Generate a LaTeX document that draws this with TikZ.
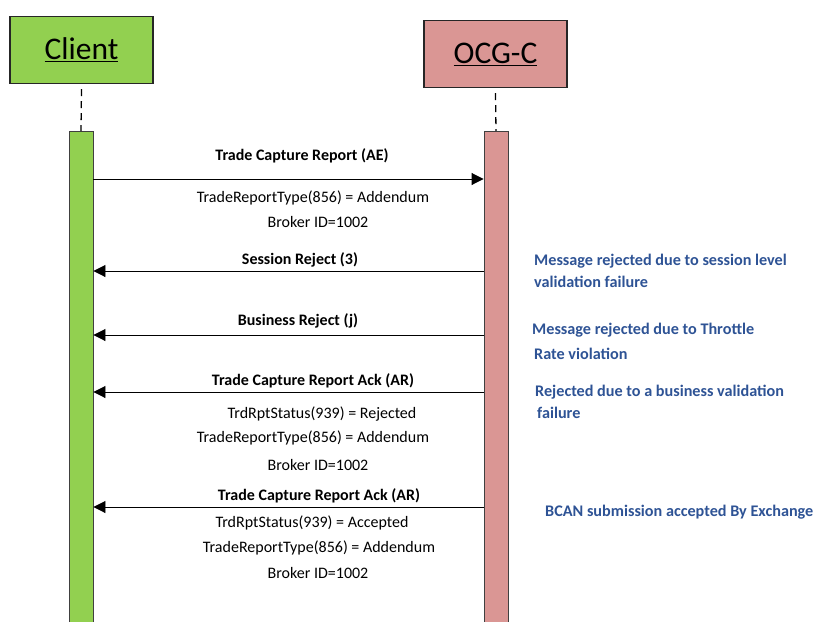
\documentclass[tikz,border=0pt]{standalone}
\usepackage{fontspec}
\setmainfont{Carlito}
\usetikzlibrary{arrows.meta}
\definecolor{cgreen}{HTML}{92D050}
\definecolor{cred}{HTML}{DA9694}
\definecolor{nblue}{HTML}{2E5395}
\tikzset{
  actor/.style={draw=black!85, line width=1.1pt, minimum width=143pt, minimum height=67pt, inner sep=0pt, font=\fontsize{31.5}{34}\selectfont},
  bar/.style={draw=black!75, line width=0.9pt, minimum width=24pt, minimum height=492pt, inner sep=0pt},
  life/.style={line width=1.3pt, dash pattern=on 7pt off 5pt},
  msg/.style={line width=0.9pt, -{Triangle[length=12pt,width=12pt]}},
  mlabel/.style={font=\bfseries\fontsize{16}{18}\selectfont, inner sep=0pt},
  mtext/.style={font=\fontsize{16}{18}\selectfont, inner sep=0pt},
  note/.style={font=\bfseries\fontsize{16.2}{18}\selectfont, text=nblue, inner sep=0pt, anchor=west}
}
\begin{document}
\begin{tikzpicture}[x=1pt,y=-1pt]
\useasboundingbox (0,0) rectangle (816,621);
% actors
\node[actor, fill=cgreen] (client) at (81.5,50) {\underline{Client}};
\node[actor, fill=cred] (ocg) at (495.5,54) {\underline{OCG-C}};
% activation bars
\node[bar, fill=cgreen, anchor=north] (cbar) at (81,131) {};
\node[bar, fill=cred, anchor=north] (obar) at (496,131) {};
% lifelines
\draw[life] (client.south) ++(0,5) coordinate (cl1) -- (cbar.north);
\draw[life] (ocg.south) ++(0,5) coordinate (ol1) -- (obar.north);
% message 1
\draw[msg] (cbar.east |- 0,179) -- (obar.west |- 0,179);
\node[mlabel] (m1) at (302,156) {Trade Capture Report (AE)};
\node[mtext] (m1a) at (313,198) {TradeReportType(856) = Addendum};
\node[mtext] (m1b) at (318,222) {Broker ID=1002};
% message 2
\draw[msg] (obar.west |- 0,271) -- (cbar.east |- 0,271);
\node[mlabel] (m2) at (300,260) {Session Reject (3)};
% message 3
\draw[msg] (obar.west |- 0,335) -- (cbar.east |- 0,335);
\node[mlabel] (m3) at (298,321) {Business Reject (j)};
% message 4
\draw[msg] (obar.west |- 0,392) -- (cbar.east |- 0,392);
\node[mlabel] (m4) at (313,381) {Trade Capture Report Ack (AR)};
\node[mtext] (m4a) at (322,414) {TrdRptStatus(939) = Rejected};
\node[mtext] (m4b) at (313,438) {TradeReportType(856) = Addendum};
\node[mtext] (m4c) at (318,465) {Broker ID=1002};
% message 5
\draw[msg] (obar.west |- 0,507) -- (cbar.east |- 0,507);
\node[mlabel] (m5) at (319,496) {Trade Capture Report Ack (AR)};
\node[mtext] (m5a) at (312,523) {TrdRptStatus(939) = Accepted};
\node[mtext] (m5b) at (319,548) {TradeReportType(856) = Addendum};
\node[mtext] (m5c) at (318,573) {Broker ID=1002};
% notes
\node[note] (n1) at (534,261) {Message rejected due to session level};
\node[note] (n1b) at (534,282) {validation failure};
\node[note] (n2) at (532,330) {Message rejected due to Throttle};
\node[note] (n2b) at (534,354) {Rate violation};
\node[note] (n3) at (535,392) {Rejected due to a business validation};
\node[note] (n3b) at (537,413) {failure};
\node[note] (n4) at (545,512) {BCAN submission accepted By Exchange};
\end{tikzpicture}
\end{document}
